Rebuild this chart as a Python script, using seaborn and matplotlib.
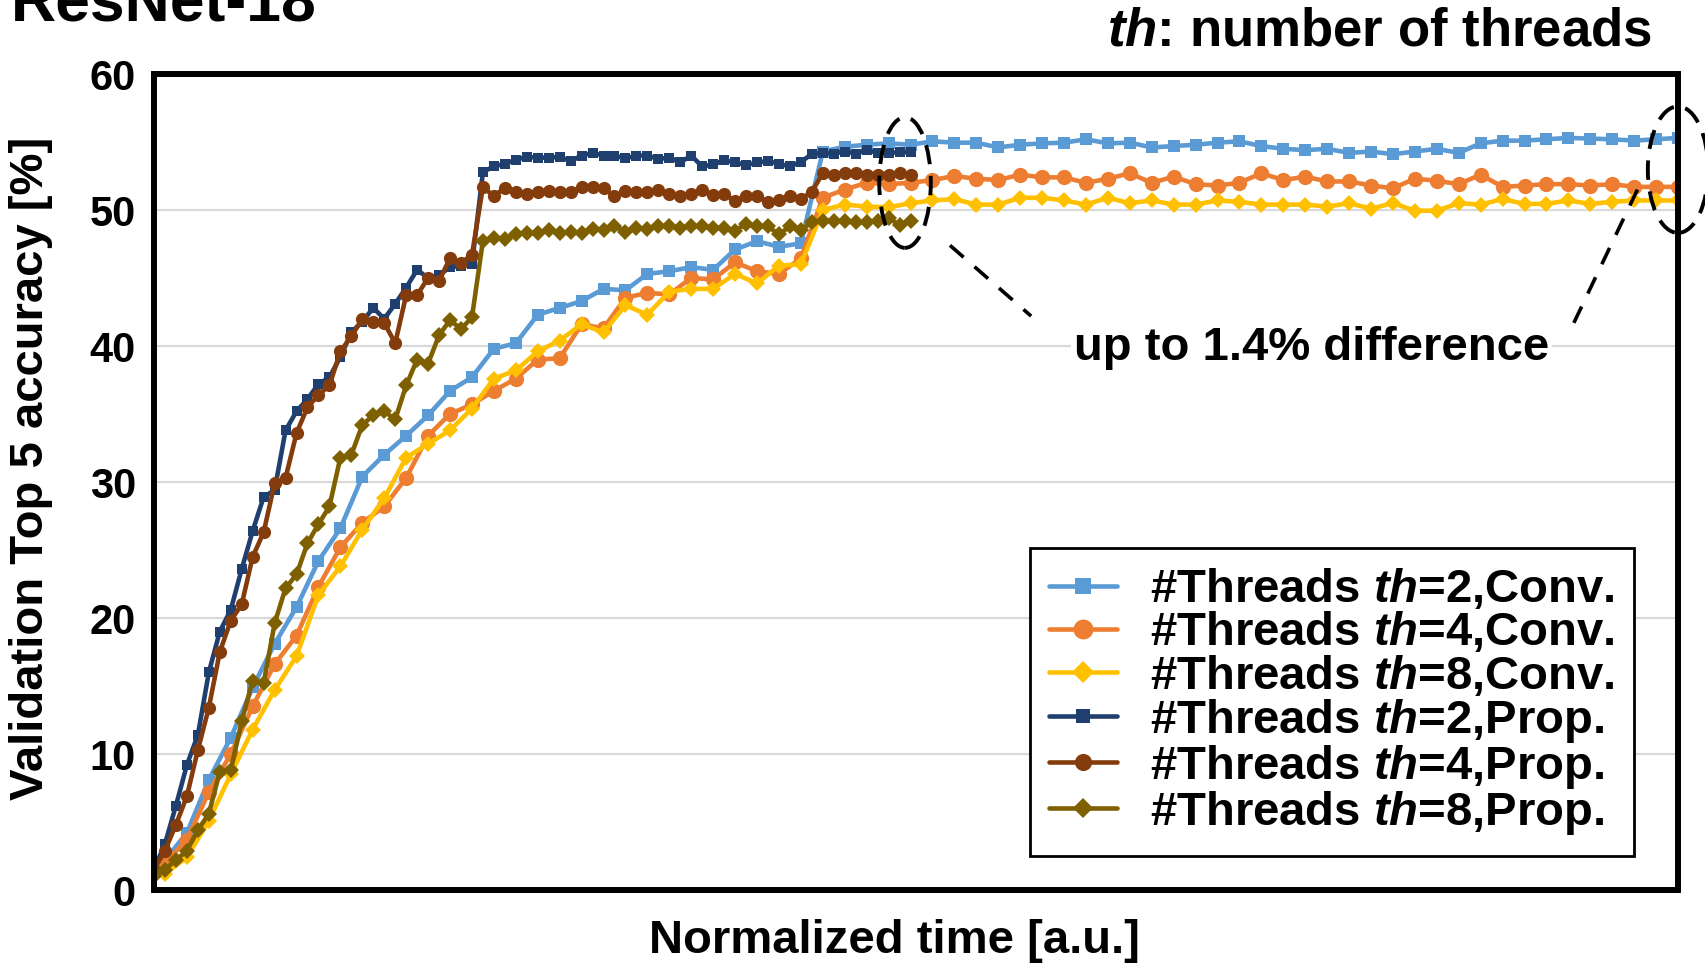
import numpy as np
import pandas as pd
import seaborn as sns
import matplotlib.pyplot as plt
from matplotlib.patches import Ellipse

# epochs, Conv. runs take twice as long per epoch as Prop. runs
epochs = np.arange(70)
conv_time = 1 + 2 * epochs
prop_time = epochs

# Validation top-5 accuracy [%]
conv_th2 = [2.2, 4.2, 8.1, 11.2, 14.9, 18.1, 20.8, 24.2, 26.6, 30.4,
            32.0, 33.4, 34.9, 36.7, 37.7, 39.8, 40.2, 42.3, 42.8, 43.3,
            44.2, 44.1, 45.3, 45.5, 45.8, 45.6, 47.1, 47.7, 47.3, 47.55,
            54.3, 54.65, 54.8, 54.9, 54.8, 55.05, 54.95, 54.95, 54.6, 54.8,
            54.9, 54.95, 55.2, 54.9, 54.95, 54.6, 54.7, 54.8, 54.95, 55.05,
            54.7, 54.5, 54.4, 54.5, 54.2, 54.3, 54.1, 54.3, 54.5, 54.2,
            54.9, 55.1, 55.1, 55.2, 55.3, 55.25, 55.2, 55.1, 55.2, 55.3]
conv_th4 = [2.0, 3.7, 7.2, 10.0, 13.5, 16.6, 18.7, 22.3, 25.2, 27.0,
            28.2, 30.3, 33.4, 35.0, 35.7, 36.7, 37.6, 39.0, 39.1, 41.6,
            41.3, 43.55, 43.9, 43.8, 45.0, 44.9, 46.15, 45.5, 45.3, 46.45,
            50.9, 51.5, 52.0, 51.9, 52.0, 52.2, 52.5, 52.3, 52.2, 52.6,
            52.4, 52.4, 52.0, 52.3, 52.7, 52.0, 52.45, 51.9, 51.8, 52.0,
            52.7, 52.2, 52.45, 52.1, 52.1, 51.8, 51.6, 52.3, 52.15, 51.9,
            52.6, 51.7, 51.8, 51.9, 51.9, 51.8, 51.9, 51.7, 51.7, 51.7]
conv_th8 = [1.2, 2.4, 5.1, 8.5, 11.8, 14.7, 17.2, 21.7, 23.8, 26.5,
            28.8, 31.8, 32.8, 33.8, 35.4, 37.6, 38.2, 39.6, 40.4, 41.6,
            41.0, 43.0, 42.3, 44.0, 44.2, 44.2, 45.3, 44.6, 45.9, 46.0,
            50.0, 50.4, 50.25, 50.2, 50.5, 50.7, 50.8, 50.4, 50.4, 50.9,
            50.9, 50.7, 50.4, 50.9, 50.5, 50.7, 50.4, 50.4, 50.7, 50.6,
            50.4, 50.4, 50.4, 50.25, 50.5, 50.1, 50.5, 49.95, 49.95, 50.5,
            50.4, 50.8, 50.45, 50.45, 50.7, 50.45, 50.6, 50.7, 50.7, 50.7]
prop_th2 = [1.5, 3.4, 6.2, 9.2, 11.4, 16.0, 19.0, 20.6, 23.6, 26.4,
            28.9, 29.4, 33.8, 35.2, 36.1, 37.2, 37.7, 39.2, 41.0, 41.8,
            42.8, 42.0, 43.1, 44.3, 45.6, 45.0, 45.2, 45.8, 45.9, 46.0,
            52.8, 53.2, 53.4, 53.7, 53.9, 53.85, 53.85, 53.9, 53.6, 54.0,
            54.2, 54.0, 54.0, 53.8, 54.0, 54.0, 53.75, 53.85, 53.5, 54.0,
            53.2, 53.35, 53.65, 53.5, 53.3, 53.5, 53.6, 53.4, 53.2, 53.55,
            54.1, 54.2, 54.15, 54.3, 54.15, 54.4, 54.2, 54.2, 54.25, 54.25]
prop_th4 = [1.5, 2.9, 4.8, 6.9, 10.3, 13.4, 17.5, 19.8, 21.0, 24.5,
            26.3, 29.9, 30.3, 33.6, 35.5, 36.4, 37.1, 39.6, 40.7, 42.0,
            41.8, 41.7, 40.2, 43.75, 43.75, 45.0, 44.8, 46.45, 46.1, 46.7,
            51.7, 51.0, 51.65, 51.3, 51.2, 51.35, 51.4, 51.3, 51.3, 51.7,
            51.7, 51.6, 51.0, 51.4, 51.3, 51.3, 51.45, 51.2, 51.0, 51.2,
            51.5, 51.1, 51.2, 50.65, 51.0, 51.0, 50.6, 50.7, 51.0, 50.8,
            51.35, 52.7, 52.6, 52.7, 52.7, 52.6, 52.6, 52.6, 52.7, 52.6]
prop_th8 = [1.0, 1.5, 2.2, 2.9, 4.4, 5.6, 8.7, 8.8, 12.4, 15.4,
            15.2, 19.6, 22.2, 23.2, 25.5, 26.9, 28.2, 31.8, 32.0, 34.2,
            34.9, 35.2, 34.6, 37.1, 39.0, 38.7, 40.8, 41.9, 41.25, 42.1,
            47.75, 47.95, 47.9, 48.2, 48.3, 48.3, 48.5, 48.3, 48.4, 48.3,
            48.6, 48.5, 48.8, 48.4, 48.7, 48.6, 48.85, 48.8, 48.7, 48.8,
            48.8, 48.7, 48.7, 48.45, 49.0, 48.8, 48.8, 48.2, 48.8, 48.5,
            49.1, 49.2, 49.2, 49.2, 49.1, 49.1, 49.2, 49.4, 48.9, 49.2]

labels = [r'#Threads $\mathit{th}$=2,Conv.', r'#Threads $\mathit{th}$=4,Conv.',
          r'#Threads $\mathit{th}$=8,Conv.', r'#Threads $\mathit{th}$=2,Prop.',
          r'#Threads $\mathit{th}$=4,Prop.', r'#Threads $\mathit{th}$=8,Prop.']
colors = ['#5B9BD5', '#ED7D31', '#FFC000', '#1F3F6E', '#843C0C', '#7F6000']
markers = ['s', 'o', 'D', 's', 'o', 'D']
msizes = [9, 11, 8.5, 7.5, 9.5, 8]

sns.set_theme(style='white')
plt.rcParams['font.family'] = ['Liberation Sans', 'DejaVu Sans']
plt.rcParams['font.weight'] = 'bold'
plt.rcParams['text.color'] = 'black'
plt.rcParams['axes.labelcolor'] = 'black'
plt.rcParams['ytick.color'] = 'black'
plt.rcParams['mathtext.fontset'] = 'custom'
plt.rcParams['mathtext.rm'] = 'Liberation Sans:bold'
plt.rcParams['mathtext.it'] = 'Liberation Sans:italic:bold'

fig = plt.figure(figsize=(17.06, 9.66), dpi=100)
ax = fig.add_axes([154 / 1706, 1 - 890 / 966, 1524 / 1706, 816 / 966])

series = [(conv_time, conv_th2), (conv_time, conv_th4), (conv_time, conv_th8),
          (prop_time, prop_th2), (prop_time, prop_th4), (prop_time, prop_th8)]
for k, (t, acc) in enumerate(series):
    sns.lineplot(x=t, y=acc, ax=ax, color=colors[k], marker=markers[k],
                 markersize=msizes[k], markeredgewidth=0, linewidth=3.3,
                 label=labels[k])

ax.set_xlim(0, 139)
ax.set_ylim(0, 60)
ax.set_xticks([])
ax.set_yticks(range(0, 61, 10))
ax.tick_params(axis='y', length=0, pad=13, labelsize=30, labelcolor='black')
ax.yaxis.grid(True, color='#D9D9D9', linewidth=1.6)
ax.set_axisbelow(True)
for s in ax.spines.values():
    s.set_color('black')
    s.set_linewidth(4.3)

ax.set_xlabel('Normalized time [a.u.]', fontsize=34, fontweight='bold')
ax.xaxis.set_label_coords(0.486, -0.035)
ax.set_ylabel('Validation Top 5 accuracy [%]', fontsize=34, fontweight='bold')
ax.yaxis.set_label_coords(-0.066, 0.517)

leg = ax.legend(loc='lower right', bbox_to_anchor=(0.971, 0.042), fontsize=34,
                frameon=True, fancybox=False, edgecolor='black',
                handlelength=1.45, handletextpad=0.7, labelspacing=-0.04,
                borderpad=0.4, borderaxespad=0, markerscale=1.3)
leg.get_frame().set_linewidth(2)
leg.get_frame().set_alpha(1)

# dashed ellipses around the final epochs
end_prop = np.mean([prop_th2[-1], prop_th4[-1], prop_th8[-1]])
end_conv = np.mean([conv_th2[-1], conv_th4[-1], conv_th8[-1]])
ax.add_patch(Ellipse((prop_time[-1] - 0.5, end_prop), 4.7, 9.6, fill=False,
                     edgecolor='black', linewidth=2.8, linestyle=(0, (5, 3)),
                     clip_on=False, zorder=5))
ax.add_patch(Ellipse((conv_time[-1], end_conv + 0.4), 5.5, 9.3, fill=False,
                     edgecolor='black', linewidth=2.8, linestyle=(0, (5, 3)),
                     clip_on=False, zorder=5))
ax.plot([72.6, 80.0], [47.4, 42.2], color='black', linewidth=2.6,
        linestyle=(0, (5, 4)), clip_on=False)
ax.plot([129.5, 135.3], [41.7, 51.5], color='black', linewidth=2.6,
        linestyle=(0, (5, 4)), clip_on=False)
ax.text(105.6, 39.85, 'up to 1.4% difference', fontsize=34, fontweight='bold',
        ha='center', va='center',
        bbox=dict(facecolor='white', edgecolor='none', pad=2))

fig.text(11 / 1706, 1 - 21 / 966, 'ResNet-18', fontsize=45, fontweight='bold',
         ha='left', va='baseline')
fig.text(1652 / 1706, 1 - 46 / 966, r'$\mathit{th}$: number of threads',
         fontsize=38, fontweight='bold', ha='right', va='baseline')

fig.savefig('out.png', dpi=100)
